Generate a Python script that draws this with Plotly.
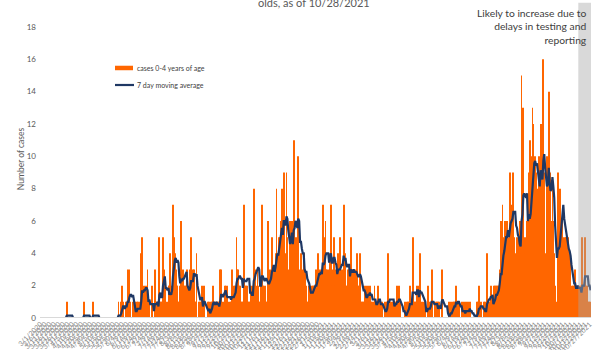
import pandas as pd
import plotly.graph_objects as go

# ---------------- data (daily cases, ages 0-4) ----------------
START_DATE = "2020-03-01"
AS_OF = "10/28/2021"

# Mar 1 - May 30, 2020
cases_a = [0, 0, 0, 0, 0, 0, 0,  0, 0, 0, 0, 0, 0, 0,  0, 0, 0, 0, 0, 0, 0,
           0, 0, 0, 0, 0, 0, 0,  0, 1, 0, 0, 0, 0, 0,  0, 0, 0, 0, 0, 0, 0,
           0, 0, 0, 0, 0, 0, 1,  0, 0, 0, 0, 0, 0, 0,  0, 0, 1, 0, 0, 0, 0,
           0, 0, 0, 0, 0, 0, 0,  0, 0, 0, 0, 0, 0, 0,  0, 0, 0, 0, 0, 0, 0,
           0, 0, 1, 0, 0, 1, 2]
# May 31 - Aug 29, 2020
cases_b = [1, 0, 0, 1, 0, 3, 2,  3, 1, 0, 0, 1, 0, 1,  0, 1, 1, 0, 1, 0, 4,
           5, 0, 2, 0, 2, 0, 3,  0, 1, 0, 0, 2, 0, 0,  3, 1, 0, 1, 0, 5, 1,
           1, 1, 5, 3, 2, 0, 1,  0, 2, 2, 4, 1, 2, 7,  5, 4, 3, 2, 2, 1, 1,
           2, 6, 2, 3, 2, 2, 2,  3, 0, 1, 2, 3, 5, 2,  3, 3, 1, 1, 4, 0, 0,
           1, 1, 1, 2, 0, 2, 0]
# Aug 30 - Nov 28, 2020
cases_c = [0, 0, 0, 1, 1, 0, 1,  1, 2, 1, 0, 1, 1, 0,  1, 1, 3, 3, 1, 0, 1,
           2, 2, 1, 2, 1, 0, 1,  1, 3, 1, 2, 2, 1, 5,  3, 3, 2, 2, 1, 1, 1,
           7, 2, 2, 2, 2, 1, 1,  1, 2, 1, 2, 8, 2, 3,  2, 3, 2, 1, 1, 2, 7,
           2, 2, 1, 2, 1, 1, 6,  2, 3, 2, 5, 2, 3, 3,  4, 8, 3, 4, 5, 5, 6,
           8, 5, 9, 4, 3, 9, 5]
# Nov 29, 2020 - Feb 27, 2021
cases_d = [3, 2, 6, 6, 6, 4, 11,  4, 5, 5, 4, 10, 3, 2,  4, 2, 3, 4, 3, 2, 2,
           1, 1, 2, 2, 1, 2, 2,  2, 2, 3, 2, 3, 4, 3,  2, 3, 2, 7, 2, 5, 6,
           3, 3, 2, 3, 4, 7, 2,  3, 5, 2, 1, 3, 3, 4,  3, 5, 3, 2, 3, 7, 2,
           4, 2, 2, 3, 3, 2, 5,  3, 2, 3, 2, 3, 2, 4,  2, 2, 4, 1, 1, 1, 1,
           2, 1, 2, 1, 2, 1, 2]
# Feb 28 - May 29, 2021
cases_e = [1, 1, 0, 1, 2, 1, 0,  1, 2, 1, 1, 0, 1, 0,  0, 1, 0, 1, 1, 4, 0,
           1, 1, 0, 1, 1, 1, 1,  1, 2, 0, 2, 1, 0, 0,  0, 0, 0, 1, 0, 1, 1,
           1, 2, 0, 1, 5, 1, 1,  1, 1, 2, 1, 2, 4, 0,  1, 0, 1, 0, 1, 0, 0,
           2, 0, 1, 1, 3, 0, 0,  1, 0, 1, 1, 1, 1, 0,  0, 3, 2, 0, 0, 0, 0,
           0, 0, 1, 0, 1, 0, 1]
# May 30 - Aug 28, 2021
cases_f = [1, 1, 1, 2, 0, 1, 1,  0, 0, 1, 0, 0, 1, 0,  1, 0, 1, 0, 1, 0, 0,
           0, 0, 0, 0, 0, 1, 1,  2, 0, 1, 0, 0, 0, 1,  1, 0, 4, 1, 1, 0, 2,
           1, 1, 0, 2, 2, 2, 2,  2, 2, 3, 6, 2, 7, 5,  4, 6, 5, 6, 5, 4, 9,
           6, 7, 6, 9, 5, 4, 3,  5, 4, 5, 6, 4, 15, 6,  13, 5, 4, 5, 6, 3, 9,
           11, 7, 10, 13, 12, 5, 10]
# Aug 29 - Oct 28, 2021
cases_g = [9, 8, 6, 10, 9, 12, 8,  7, 16, 9, 4, 3, 10, 9,  14, 9, 6, 5, 8, 6, 4,
           2, 0, 1, 9, 8, 7, 8,  6, 6, 5, 3, 5, 5, 4,  5, 3, 4, 1, 1, 2, 2,
           2, 3, 2, 1, 2, 1, 2,  2, 1, 5, 1, 2, 5, 2,  2, 1, 1, 1, 0]

DELAY_DAYS = 14  # last days likely to increase

cases = cases_a + cases_b + cases_c + cases_d + cases_e + cases_f + cases_g
dates = pd.date_range(START_DATE, periods=len(cases), freq="D")
moving_avg = pd.Series(cases).rolling(7).mean()

ORANGE = "#FF6600"
NAVY = "#1F3864"
FONT = "Lato"

fig = go.Figure()
fig.add_trace(go.Bar(x=dates, y=cases, marker_color=ORANGE, marker_line_width=0,
                     name="cases 0-4 years of age", showlegend=False))
fig.add_trace(go.Scatter(x=dates, y=moving_avg, mode="lines",
                         line=dict(color=NAVY, width=2.2),
                         name="7 day moving average", showlegend=False))

half_day = pd.Timedelta(hours=12)
# reporting-delay band
fig.add_shape(type="rect", xref="x", yref="y",
              x0=dates[-DELAY_DAYS] - half_day, x1=dates[-1] + half_day,
              y0=0, y1=19.5, fillcolor="rgba(166,166,166,0.43)",
              line_width=0, layer="above")
# category axis line (drawn over the series, as in the original)
fig.add_shape(type="line", xref="paper", yref="y", x0=0, x1=1, y0=0, y1=0,
              line=dict(color="#d9d9d9", width=2), layer="above")

# legend (drawn like the original: short thick swatch + label)
legend_items = [("cases 0-4 years of age", ORANGE, 4.5, 0.7862, 0.1688),
                ("7 day moving average", NAVY, 2.2, 0.7327, 0.1706)]
for label, color, width, ly, lx1 in legend_items:
    fig.add_shape(type="line", xref="paper", yref="paper", x0=0.1361, x1=lx1,
                  y0=ly, y1=ly, line=dict(color=color, width=width))
    fig.add_annotation(text=label, xref="paper", yref="paper", x=0.1730, y=ly,
                       xanchor="left", yanchor="middle", showarrow=False,
                       font=dict(family=FONT, size=7, color="#404040"))

fig.add_annotation(text="olds, as of " + AS_OF, xref="paper", yref="paper",
                   x=0.497, y=1, xanchor="center", yanchor="top", yshift=6,
                   showarrow=False, font=dict(family=FONT, size=11, color="#595959"))
fig.add_annotation(text="Likely to increase due to<br>delays in testing and<br>reporting",
                   xref="paper", yref="paper", x=0.997, y=0.985,
                   xanchor="right", yanchor="top", align="right",
                   showarrow=False, font=dict(family=FONT, size=10.3, color="#404040"))

fig.update_layout(
    width=600, height=350,
    margin=dict(l=40, r=9, t=0, b=32),
    plot_bgcolor="white", paper_bgcolor="white",
    bargap=0.1,
    showlegend=False,
    font=dict(family=FONT, color="#595959"),
    xaxis=dict(type="date", range=[dates[0] - half_day, dates[-1] + half_day],
               showgrid=False, showline=False, zeroline=False, ticks="",
               tickformat="%-m/%-d/%Y", tickangle=-45,
               tick0=START_DATE, dtick=5 * 86400000,
               tickfont=dict(size=7, color="#8c8c8c"), automargin=False),
    yaxis=dict(range=[0, 19.67], tick0=0, dtick=2, showgrid=False,
               showline=False, zeroline=False, ticks="", ticklabelstandoff=3,
               tickfont=dict(size=8, color="#595959"),
               title=dict(text="Number of cases", font=dict(size=8.5, color="#595959"),
                          standoff=0),
               automargin=False),
)

fig.write_html("out.html")
